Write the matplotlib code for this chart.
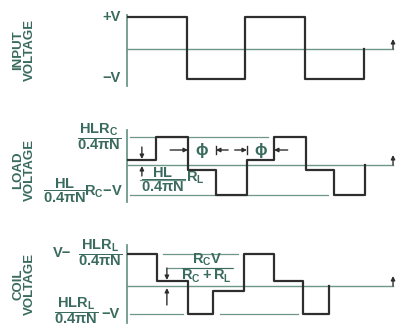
import numpy as np
import matplotlib
matplotlib.use('Agg')
import matplotlib.pyplot as plt

W, H = 396, 329
TEXT = '#3a6b5e'
WAVE = '#2e2e2e'
THIN = '#6e978a'

plt.rcParams['font.family'] = ['Liberation Sans', 'DejaVu Sans']
plt.rcParams['font.weight'] = 'bold'
plt.rcParams['mathtext.fontset'] = 'custom'
plt.rcParams['mathtext.rm'] = 'Liberation Sans:bold'
plt.rcParams['mathtext.it'] = 'Liberation Sans:bold'
plt.rcParams['mathtext.bf'] = 'Liberation Sans:bold'
plt.rcParams['mathtext.sf'] = 'Liberation Sans:bold'
plt.rcParams['mathtext.default'] = 'rm'

# switching times (time steps) and level after each switch (relative units)
input_t = [0, 2.02, 3.97, 5.98, 7.97]
input_v = [32, -30, 32, -30, 0]
load_t = [0, 0.97, 2.05, 2.99, 4.03, 4.94, 6.02, 6.96, 8.0]
load_v = [5, 28, -5, -30, 5, 28, -5, -30, 0]
coil_t = [0, 1.01, 2.05, 2.89, 3.93, 4.94, 5.92, 6.79]
coil_v = [32, 5, -28, -5, 32, 5, -28, 0]
T_END = 8.94
X_MAX = 9.04

panel_titles = ['INPUT\nVOLTAGE', 'LOAD\nVOLTAGE', 'COIL\nVOLTAGE']

fig = plt.figure(figsize=(W / 100, H / 100), dpi=100)
fig.patch.set_facecolor('white')


def px_axes(top, bottom):
    return fig.add_axes([127 / W, 1 - bottom / H, (W - 127) / W, (bottom - top) / H])


def ftext(x, y, s, **kw):
    kw.setdefault('color', TEXT)
    kw.setdefault('fontweight', 'bold')
    return fig.text(x / W, 1 - y / H, s, **kw)


def setup(ax, ylim, bounds):
    ax.set_xlim(0, X_MAX)
    ax.set_ylim(*ylim)
    for s in ['top', 'right', 'bottom']:
        ax.spines[s].set_visible(False)
    ax.spines['left'].set_color(THIN)
    ax.spines['left'].set_linewidth(1.3)
    ax.spines['left'].set_bounds(*bounds)
    ax.set_xticks([])
    ax.set_yticks([])
    ax.patch.set_alpha(0)
    ax.plot([0, T_END], [0, 0], color=THIN, lw=1.0, zorder=1)
    ax.annotate('', xy=(T_END, 10), xytext=(T_END, 0),
                arrowprops=dict(arrowstyle='-|>', color=WAVE, lw=1.0,
                                mutation_scale=6, shrinkA=0, shrinkB=0))


def arrow(ax, x0, y0, x1, y1, color=WAVE):
    ax.annotate('', xy=(x1, y1), xytext=(x0, y0),
                arrowprops=dict(arrowstyle='-|>', color=color, lw=1.0,
                                mutation_scale=6, shrinkA=0, shrinkB=0))


FS = 10.5

# ---------------- panel 1: input voltage ----------------
ax1 = px_axes(8, 92)
setup(ax1, (-43, 41), (-37, 34))
ax1.step(input_t, input_v, where='post', color=WAVE, lw=1.6, zorder=3)
ftext(24, 50, panel_titles[0], rotation=90, ha='center', va='center',
      fontsize=9.5, linespacing=1.0, multialignment='center')
ftext(121, 17, '+V', ha='right', va='center', fontsize=10.5)
ftext(121, 78, '\u2212V', ha='right', va='center', fontsize=10.5)

# ---------------- panel 2: load voltage ----------------
ax2 = px_axes(122, 212)
setup(ax2, (-47, 43), (-37, 35))
ax2.plot([0.1, 4.74], [28, 28], color=THIN, lw=0.9, zorder=1)
ax2.plot([0.1, 6.76], [-30, -30], color=THIN, lw=0.9, zorder=1)
ax2.step(load_t, load_v, where='post', color=WAVE, lw=1.6, zorder=3)
ftext(24, 170, panel_titles[1], rotation=90, ha='center', va='center',
      fontsize=9.5, linespacing=1.0, multialignment='center')
ftext(99, 137, r'$\dfrac{HLR_C}{0.4\pi N}$', ha='center', va='center', fontsize=FS)
ftext(65, 191, r'$\dfrac{HL}{0.4\pi N}$', ha='center', va='center', fontsize=FS)
ftext(104, 192, r'$R_C\!-\!V$', ha='center', va='center', fontsize=FS)
# amplitude arrows
arrow(ax2, 0.5, 18, 0.5, 6)
arrow(ax2, 0.5, -11, 0.5, -1)
ax2.plot([0.45, 1.95], [-15, -15], color=THIN, lw=0.9)
ax2.text(1.2, -15, r'$\dfrac{HL}{0.4\pi N}$', ha='center', va='center',
         fontsize=FS, color=TEXT)
ax2.text(2.28, -13, r'$R_L$', ha='center', va='center', fontsize=FS, color=TEXT)
# phase arrows
arrow(ax2, 1.45, 15, 2.05, 15)
ax2.text(2.52, 15, r'$\phi$', ha='center', va='center', fontsize=12, color=TEXT)
arrow(ax2, 3.4, 15, 2.99, 15)
ax2.plot([2.99, 2.99], [11, 19], color=WAVE, lw=1.0)
arrow(ax2, 3.62, 15, 4.03, 15)
ax2.plot([4.03, 4.03], [11, 19], color=WAVE, lw=1.0)
ax2.text(4.5, 15, r'$\phi$', ha='center', va='center', fontsize=12, color=TEXT)
arrow(ax2, 5.4, 15, 4.94, 15)

# ---------------- panel 3: coil voltage ----------------
ax3 = px_axes(240, 329)
setup(ax3, (-43, 46), (-37, 41))
ax3.plot([1.21, 3.73], [32, 32], color=THIN, lw=0.9, zorder=1)
ax3.plot([0.1, 1.88], [-28, -28], color=THIN, lw=0.9, zorder=1)
ax3.plot([3.13, 5.75], [-28, -28], color=THIN, lw=0.9, zorder=1)
ax3.step(coil_t, coil_v, where='post', color=WAVE, lw=1.6, zorder=3)
ftext(24, 284, panel_titles[2], rotation=90, ha='center', va='center',
      fontsize=9.5, linespacing=1.0, multialignment='center')
ftext(62, 253, 'V\u2212', ha='center', va='center', fontsize=10.5)
ftext(100, 253, r'$\dfrac{HLR_L}{0.4\pi N}$', ha='center', va='center', fontsize=FS)
ftext(76, 311, r'$\dfrac{HLR_L}{0.4\pi N}$', ha='center', va='center', fontsize=FS)
ftext(111, 314, '\u2212V', ha='center', va='center', fontsize=10.5)
arrow(ax3, 1.34, 18, 1.34, 6)
arrow(ax3, 1.34, -19, 1.34, -2)
ax3.plot([1.34, 3.55], [18, 18], color=THIN, lw=0.9)
ax3.text(2.69, 18, r'$\dfrac{R_C V}{R_C + R_L}$', ha='center', va='center',
         fontsize=FS, color=TEXT)

fig.savefig('out.png', dpi=100, facecolor='white')
